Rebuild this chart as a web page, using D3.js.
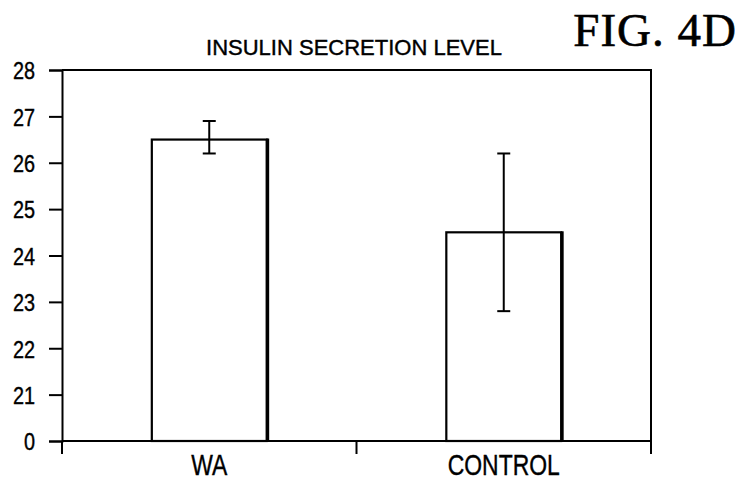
<!DOCTYPE html>
<html>
<head>
<meta charset="utf-8">
<script src="https://cdn.jsdelivr.net/npm/d3@7"></script>
<style>
  html, body { margin: 0; padding: 0; background: #fff; }
  svg { display: block; }
  .lbl { font-family: "Liberation Sans", Arial, sans-serif; fill: #000; stroke: #000; stroke-width: 0.4px; }
</style>
</head>
<body>
<svg id="chart" width="738" height="481"></svg>
<script>
// Insulin secretion level, mean with error range
const categories = ["WA", "CONTROL"];
const means = [26.5, 24.5];
const errLow = [26.2, 22.8];
const errHigh = [26.9, 26.2];
// Broken axis: the bottom tick stands for 0, the rest are 21..28
const tickValues = [20, 21, 22, 23, 24, 25, 26, 27, 28];
const tickLabels = ["0", "21", "22", "23", "24", "25", "26", "27", "28"];

const svg = d3.select("#chart");
const plotLeft = 62, plotRight = 651, plotTop = 70, plotBottom = 441;

const y = d3.scaleLinear().domain([20, 28]).range([plotBottom, plotTop]);
const x = d3.scaleBand().domain(categories).range([plotLeft, plotRight])
  .paddingInner(0.61).paddingOuter(0.305);
const xEdges = d3.scaleBand().domain(categories).range([plotLeft, plotRight]);

// frame (top and right)
svg.append("path")
  .attr("d", `M${plotLeft},${plotTop}H${plotRight}V${plotBottom}`)
  .attr("fill", "none").attr("stroke", "#000").attr("stroke-width", 2);

// y axis with condensed labels
const yAxis = svg.append("g").attr("transform", `translate(${plotLeft},0)`)
  .call(d3.axisLeft(y).tickValues(tickValues)
    .tickFormat((d, i) => tickLabels[i]).tickSize(13).tickPadding(13));
yAxis.select(".domain").attr("stroke-width", 2);
yAxis.selectAll(".tick line").attr("stroke-width", 2);
yAxis.selectAll(".tick text")
  .attr("class", "lbl").style("font-size", "24.5px")
  .attr("x", 0).attr("dy", "0.36em")
  .attr("transform", "translate(-27,0) scale(0.81,1)");

// x axis with ticks on category boundaries
const boundaries = [plotLeft, ...categories.slice(1).map(c => xEdges(c)), plotRight];
const xAxisG = svg.append("g");
xAxisG.append("line").attr("x1", plotLeft).attr("x2", plotRight)
  .attr("y1", plotBottom).attr("y2", plotBottom).attr("stroke", "#000").attr("stroke-width", 2);
xAxisG.selectAll("line.tk").data(boundaries).join("line").attr("class", "tk")
  .attr("x1", d => d).attr("x2", d => d).attr("y1", plotBottom).attr("y2", plotBottom + 13)
  .attr("stroke", "#000").attr("stroke-width", 2);
xAxisG.selectAll("text").data(categories).join("text")
  .attr("class", "lbl")
  .attr("transform", d => `translate(${x(d) + x.bandwidth() / 2},474.5) scale(0.79,1)`)
  .attr("text-anchor", "middle").style("font-size", "29px").text(d => d);

// bars
const bars = svg.append("g");
bars.selectAll("rect").data(categories).join("rect")
  .attr("x", d => x(d)).attr("width", x.bandwidth())
  .attr("y", (d, i) => y(means[i])).attr("height", (d, i) => plotBottom - y(means[i]))
  .attr("fill", "#fff").attr("stroke", "#000").attr("stroke-width", 2.2);
// heavier right edge on each bar
bars.selectAll("line").data(categories).join("line")
  .attr("x1", d => x(d) + x.bandwidth() + 1).attr("x2", d => x(d) + x.bandwidth() + 1)
  .attr("y1", (d, i) => y(means[i]) - 1).attr("y2", plotBottom)
  .attr("stroke", "#000").attr("stroke-width", 3);

// error bars
const err = svg.append("g").attr("stroke", "#000").attr("stroke-width", 2);
categories.forEach((c, i) => {
  const cx = x(c) + x.bandwidth() / 2;
  err.append("line").attr("x1", cx).attr("x2", cx)
    .attr("y1", y(errHigh[i])).attr("y2", y(errLow[i]));
  [errHigh[i], errLow[i]].forEach(v => {
    err.append("line").attr("x1", cx - 6.5).attr("x2", cx + 6.5)
      .attr("y1", y(v)).attr("y2", y(v));
  });
});

// titles
svg.append("text").attr("class", "lbl")
  .attr("x", 354).attr("y", 55).attr("text-anchor", "middle")
  .style("font-size", "22px").text("INSULIN SECRETION LEVEL");
svg.append("text")
  .attr("x", 737).attr("y", 46).attr("text-anchor", "end")
  .style("font-family", "'Liberation Serif', 'Times New Roman', serif")
  .style("font-size", "47px").style("letter-spacing", "1px")
  .attr("stroke", "#000").attr("stroke-width", 0.6)
  .text("FIG. 4D");
</script>
</body>
</html>
